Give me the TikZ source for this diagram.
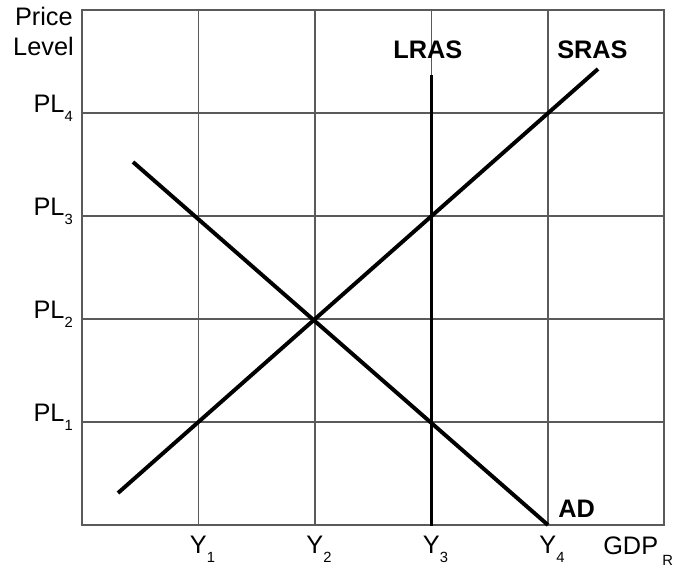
\documentclass[tikz,border=0pt]{standalone}
\usepackage{fontspec}
\setmainfont{Liberation Sans}
\usepackage{xcolor}
\usepackage{tikz}
\usetikzlibrary{calc}
\definecolor{gridgray}{HTML}{5A5A5A}
\definecolor{curveblack}{HTML}{000000}
\newcommand{\lowsub}[2][7pt]{\raisebox{-#1}{\fontsize{10.5}{11}\selectfont #2}}
\tikzset{
  gridline/.style={draw=gridgray,line width=0.9pt},
  curve/.style={draw=curveblack,line width=2.8pt},
  axislbl/.style={inner sep=0pt,font=\fontsize{18}{21}\selectfont},
  curvelbl/.style={inner sep=0pt,font=\fontsize{18}{21}\selectfont\bfseries}
}

\begin{document}
\begin{tikzpicture}[x=0.025cm,y=-0.025cm]
\useasboundingbox (0,0) rectangle (678,574);
% grid
\foreach \gx in {198.5,315,431.5,548}
  \draw[gridline] (\gx,10) -- (\gx,525);
\foreach \gy in {113,216,319,422}
  \draw[gridline] (82,\gy) -- (664,\gy);
\draw[gridline] (82,10) rectangle (664,525);
% axis labels
\node[axislbl,anchor=base east] (pricelbl) at (73,25) {Price};
\node[axislbl,anchor=base east] (levellbl) at (74,55) {Level};
\foreach \n/\gy in {4/113,3/216,2/319,1/422}
  \node[axislbl,anchor=base east] (pl\n) at (73,\gy-1) {PL\lowsub{\n}};
\foreach \n/\gx in {1/198.5,2/315,3/431.5,4/548}
  \node[axislbl,anchor=base] (y\n) at (\gx+4,553) {Y\lowsub{\n}};
\node[axislbl,anchor=base west] (gdplbl) at (603,554) {GDP\,\lowsub[8.5pt]{R}};
% curves
\coordinate (lrastop) at (431.5,75);
\coordinate (lrasbot) at (431.5,526);
\coordinate (srasbot) at (118,493);
\coordinate (srastop) at (598,69);
\coordinate (adtop) at (133,162);
\coordinate (adbot) at (548,525);
\draw[curve] (lrasbot) -- (lrastop);
\draw[curve] (srasbot) -- (srastop);
\draw[curve] (adtop) -- (adbot);
\node[curvelbl,anchor=base west] (lraslbl) at (393,58) {LRAS};
\node[curvelbl,anchor=base west] (sraslbl) at (557,58) {SRAS};
\node[curvelbl,anchor=base west] (adlbl) at (558,517) {AD};
\end{tikzpicture}
\end{document}
